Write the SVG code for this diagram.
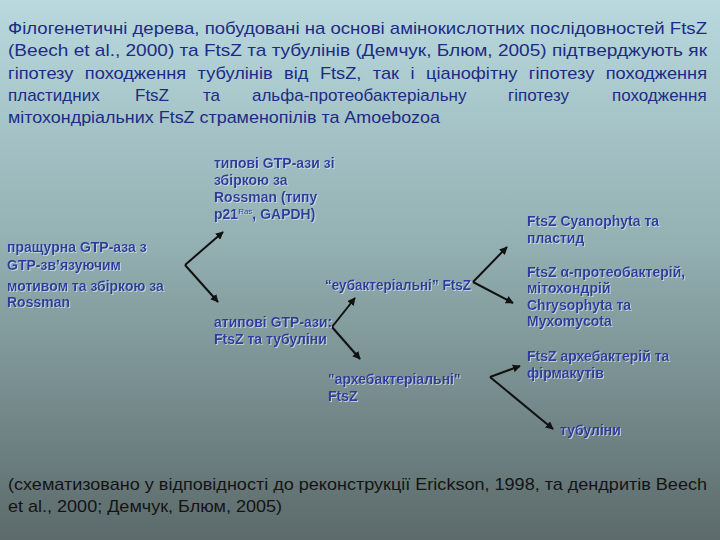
<svg xmlns="http://www.w3.org/2000/svg" width="720" height="540" viewBox="0 0 720 540">
<defs>
<linearGradient id="bg" x1="0" y1="0" x2="0" y2="1">
<stop offset="0" stop-color="#b9d9de"/>
<stop offset="0.45" stop-color="#93b0b2"/>
<stop offset="1" stop-color="#5c6a6b"/>
</linearGradient>
<filter id="glow" x="-10%" y="-20%" width="120%" height="140%">
<feDropShadow dx="1" dy="1" stdDeviation="0.6" flood-color="#d8e6f0" flood-opacity="0.7"/>
</filter>
<marker id="ah" viewBox="0 0 10 10" refX="9" refY="5" markerWidth="4" markerHeight="4" orient="auto" markerUnits="strokeWidth">
<path d="M0,0 L10,5 L0,10 z" fill="#111"/>
</marker>
<style>
.title{font-family:"Liberation Sans",Arial,sans-serif;font-size:17px;fill:#1d2b86}
.node{font-family:"Liberation Sans",Arial,sans-serif;font-size:14px;font-weight:bold;fill:#2d3b9e;filter:url(#glow)}
.foot{font-family:"Liberation Sans",Arial,sans-serif;font-size:17px;fill:#141414}
.conn path{fill:none;stroke:#111;stroke-width:2;marker-end:url(#ah)}
</style>
</defs>
<rect width="720" height="540" fill="url(#bg)"/>

<g id="title" class="title">
<text x="8" y="34" textLength="699" lengthAdjust="spacingAndGlyphs">Філогенетичні дерева, побудовані на основі амінокислотних послідовностей FtsZ</text>
<text x="8" y="56" textLength="699" lengthAdjust="spacingAndGlyphs">(Beech et al., 2000) та FtsZ та тубулінів (Демчук, Блюм, 2005) підтверджують як</text>
<text x="8" y="79" textLength="699" lengthAdjust="spacingAndGlyphs" word-spacing="6">гіпотезу походження тубулінів від FtsZ, так і ціанофітну гіпотезу походження</text>
<text y="101"><tspan x="8">пластидних</tspan><tspan x="135">FtsZ</tspan><tspan x="203">та</tspan><tspan x="252">альфа-протеобактеріальну</tspan><tspan x="508">гіпотезу</tspan><tspan x="612">походження</tspan></text>
<text x="8" y="123" textLength="432" lengthAdjust="spacingAndGlyphs">мітохондріальних FtsZ страменопілів та Amoebozoa</text>
</g>

<g id="connectors" class="conn">
<path d="M185,265 L223,232"/>
<path d="M185,265 L218,302"/>
<path d="M332,327 L355,298"/>
<path d="M332,327 L360,359"/>
<path d="M473,282 L507,247"/>
<path d="M473,282 L513,303"/>
<path d="M490,377 L520,366"/>
<path d="M490,377 L553,429"/>
</g>

<g id="n-typical" class="node">
<text x="214" y="168">типові GTP-ази зі</text>
<text x="214" y="185">збіркою  за</text>
<text x="214" y="202">Rossman (типу</text>
<text x="214" y="219">p21<tspan font-size="8" font-weight="normal" dy="-5">Ras</tspan><tspan dy="5">, GAPDH)</tspan></text>
</g>

<g id="n-ancestral" class="node">
<text x="7" y="252">пращурна GTP-аза з</text>
<text x="7" y="270">GTP-зв’язуючим</text>
<text x="7" y="291">мотивом та збіркою за</text>
<text x="7" y="307">Rossman</text>
</g>

<g id="n-eubact" class="node">
<text x="325" y="290" textLength="146" lengthAdjust="spacingAndGlyphs">“еубактеріальні” FtsZ</text>
</g>

<g id="n-atypical" class="node">
<text x="214" y="327">атипові GTP-ази:</text>
<text x="214" y="344">FtsZ та тубуліни</text>
</g>

<g id="n-archaebact" class="node">
<text x="328" y="384">"архебактеріальні"</text>
<text x="328" y="401">FtsZ</text>
</g>

<g id="n-cyano" class="node">
<text x="527" y="226">FtsZ Cyanophyta та</text>
<text x="527" y="243">пластид</text>
</g>

<g id="n-alpha" class="node">
<text x="527" y="277">FtsZ α-протеобактерій,</text>
<text x="527" y="293">мітохондрій</text>
<text x="527" y="310">Chrysophyta та</text>
<text x="527" y="326">Myxomycota</text>
</g>

<g id="n-archfirm" class="node">
<text x="527" y="361">FtsZ архебактерій та</text>
<text x="527" y="378">фірмакутів</text>
</g>

<g id="n-tubulin" class="node">
<text x="560" y="435">тубуліни</text>
</g>

<g id="footnote" class="foot">
<text x="8" y="490" textLength="699" lengthAdjust="spacingAndGlyphs">(схематизовано у відповідності до реконструкції Erickson, 1998, та дендритів Beech</text>
<text x="8" y="512" textLength="274" lengthAdjust="spacingAndGlyphs">et al., 2000; Демчук, Блюм, 2005)</text>
</g>
</svg>
